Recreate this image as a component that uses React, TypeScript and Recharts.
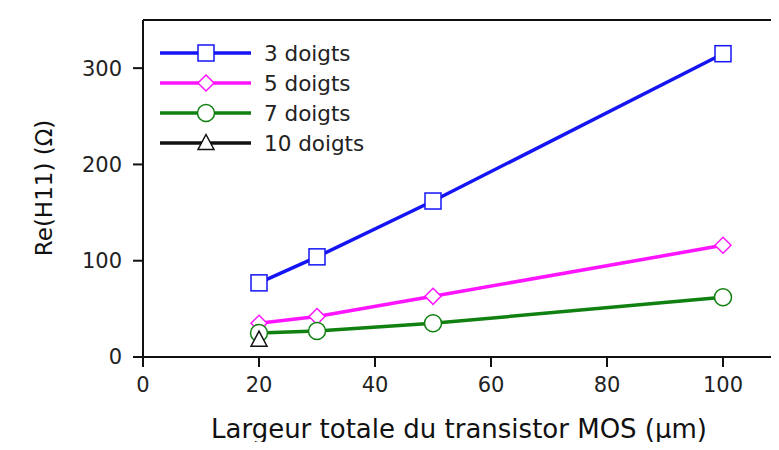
import React from "react"
import { LineChart, Line, XAxis, YAxis, ReferenceLine } from "recharts"

const widths = [20, 30, 50, 100]
const doigts3 = [77, 104, 162, 315]
const doigts5 = [35, 42, 63, 116]
const doigts7 = [25, 27, 35, 62]
const doigts10 = [18, null, null, null]

const xTicks = [0, 20, 40, 60, 80, 100]
const yTicks = [0, 100, 200, 300]

const data = widths.map((w, i) => ({
  w,
  d3: doigts3[i],
  d5: doigts5[i],
  d7: doigts7[i],
  d10: doigts10[i],
}))

const series = [
  { key: "d3", name: "3 doigts", color: "#1414f5", shape: "square" },
  { key: "d5", name: "5 doigts", color: "#ff14ff", shape: "diamond" },
  { key: "d7", name: "7 doigts", color: "#108010", shape: "circle" },
  { key: "d10", name: "10 doigts", color: "#111111", shape: "triangle" },
]

const font = "DejaVu Sans, sans-serif"

function Marker({ cx, cy, shape, color }: any) {
  if (cx == null || cy == null || isNaN(cy)) return null
  const s = 8
  if (shape === "square")
    return <rect x={cx - s} y={cy - s} width={2 * s} height={2 * s} fill="#fff" stroke={color} strokeWidth={1.5} />
  if (shape === "diamond")
    return (
      <polygon
        points={`${cx},${cy - 8} ${cx + 8},${cy} ${cx},${cy + 8} ${cx - 8},${cy}`}
        fill="#fff"
        stroke={color}
        strokeWidth={1.5}
      />
    )
  if (shape === "circle") return <circle cx={cx} cy={cy} r={8.5} fill="#fff" stroke={color} strokeWidth={1.5} />
  return (
    <polygon
      points={`${cx},${cy - 8.5} ${cx + 8},${cy + 6.5} ${cx - 8},${cy + 6.5}`}
      fill="#fff"
      stroke={color}
      strokeWidth={1.5}
    />
  )
}

function LegendBox() {
  return (
    <svg width={260} height={135} style={{ position: "absolute", left: 150, top: 36 }}>
      {series.map((s, i) => {
        const y = 17 + i * 30
        return (
          <g key={s.key}>
            <line x1={10} x2={101} y1={y} y2={y} stroke={s.color} strokeWidth={3.5} />
            <Marker cx={56} cy={y} shape={s.shape} color={s.color} />
            <text x={114} y={y + 7.5} fontSize={21.5} fontFamily={font} fill="#222">
              {s.name}
            </text>
          </g>
        )
      })}
    </svg>
  )
}

export default function App() {
  return (
    <div style={{ position: "relative", margin: -8, width: 779, height: 450, overflow: "hidden", background: "#fff" }}>
      <LineChart width={790} height={450} data={data} margin={{ top: 20, right: 9, left: 83, bottom: 0 }}>
        <XAxis
          dataKey="w"
          type="number"
          domain={[0, 110]}
          ticks={xTicks}
          height={93}
          stroke="#111"
          strokeWidth={2}
          tickSize={10}
          tickMargin={10}
          tick={{ fontSize: 21, fontFamily: font, fill: "#222" }}
          label={{
            content: () => (
              <text x={459} y={438} textAnchor="middle" fontSize={26} fontFamily={font} fill="#111">
                Largeur totale du transistor MOS (µm)
              </text>
            ),
          }}
        />
        <YAxis
          type="number"
          domain={[0, 350]}
          ticks={yTicks}
          width={60}
          stroke="#111"
          strokeWidth={2}
          tickSize={10}
          tickMargin={11}
          tick={{ fontSize: 21, fontFamily: font, fill: "#222" }}
          label={{
            content: () => (
              <text x={0} y={0} transform="translate(52,188) rotate(-90)" textAnchor="middle" fontSize={23} fontFamily={font} fill="#111">
                Re(H11) (Ω)
              </text>
            ),
          }}
        />
        <ReferenceLine y={350} stroke="#111" strokeWidth={2} />
        {series.map((s) => (
          <Line
            key={s.key}
            dataKey={s.key}
            name={s.name}
            stroke={s.color}
            strokeWidth={3.5}
            connectNulls
            isAnimationActive={false}
            dot={(p: any) => <Marker key={`${s.key}-${p.index}`} cx={p.cx} cy={p.cy} shape={s.shape} color={s.color} />}
            activeDot={false}
          />
        ))}
      </LineChart>
      <LegendBox />
    </div>
  )
}
